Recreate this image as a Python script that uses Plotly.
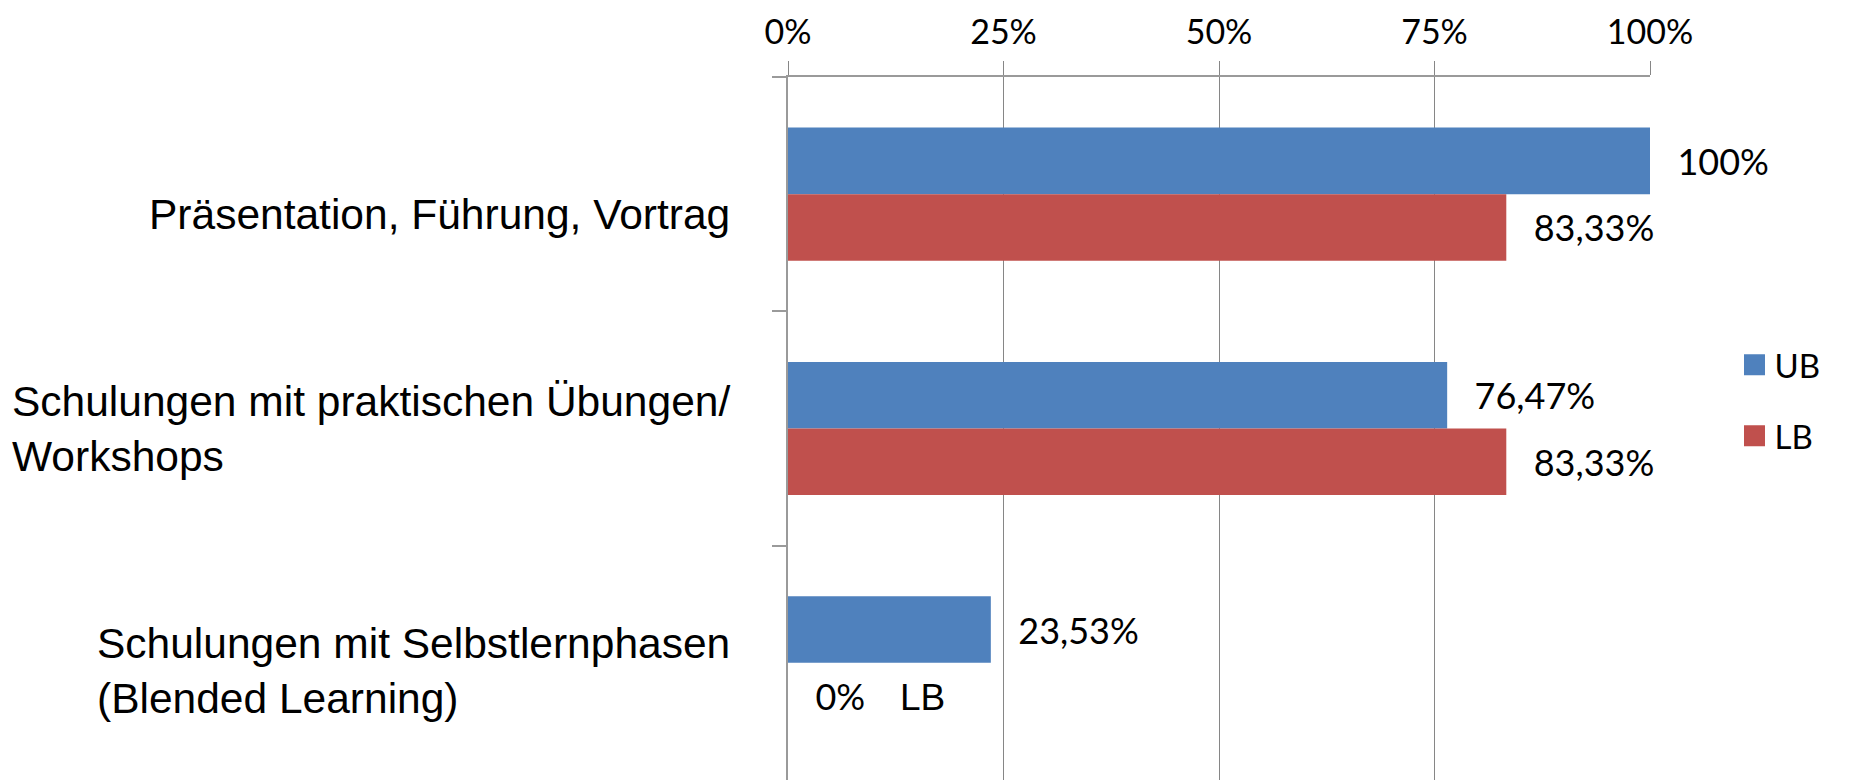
import plotly.graph_objects as go

categories = [
    "Präsentation, Führung, Vortrag",
    "Schulungen mit praktischen Übungen/<br>Workshops",
    "Schulungen mit Selbstlernphasen<br>(Blended Learning)",
]
series_names = ["UB", "LB"]
ub_values = [100, 76.47, 23.53]
lb_values = [83.33, 83.33, 0]
x_tick_values = [0, 25, 50, 75, 100]
x_tick_labels = [f"{v}%" for v in x_tick_values]
extra_label_text = "LB"

colors = {"UB": "#4F81BD", "LB": "#C0504D"}
GRID = "#868686"
AXIS = "#9a9a9a"
LABEL_FONT = "Lato"
CAT_FONT = "Liberation Sans"

# the page body adds an 8px margin; the figure is sized/placed to compensate
W, H = 1852, 773


def fmt(v):
    return "\u00a0\u00a0\u2006" + f"{v:g}".replace(".", ",") + "%"


fig = go.Figure()
for name, vals in zip(series_names, [ub_values, lb_values]):
    fig.add_trace(go.Bar(
        name=name,
        legendgroup=name,
        showlegend=False,
        orientation="h",
        x=vals,
        y=categories,
        marker=dict(color=colors[name], line=dict(width=0)),
        text=[fmt(v) for v in vals],
        textposition="outside",
        textfont=dict(family=LABEL_FONT, size=36, color="#000000"),
        constraintext="none",
        cliponaxis=False,
        hoverinfo="skip",
    ))

# legend entries with square keys (same series names / colours)
for name in series_names:
    fig.add_trace(go.Scatter(
        name=name, legendgroup=name, showlegend=True,
        x=[None], y=[None], mode="markers",
        marker=dict(symbol="square", size=16, color=colors[name],
                    line=dict(color=colors[name], width=5)),
        hoverinfo="skip",
    ))

# category labels (left-aligned blocks, right-anchored next to the axis)
label_shift = [-20, 0, -8]
for cat, ys in zip(categories, label_shift):
    fig.add_annotation(
        text=cat, xref="paper", x=0, xanchor="right", xshift=-56,
        yref="y", y=cat, yanchor="middle", yshift=ys,
        align="left", showarrow=False,
        font=dict(family=CAT_FONT, size=42.5, color="#000000"),
    )

# extra series label next to the 0% bar
fig.add_annotation(
    text=extra_label_text, xref="x", x=lb_values[2], xanchor="left", xshift=110,
    yref="y", y=categories[2], yanchor="middle", yshift=-35,
    showarrow=False,
    font=dict(family=CAT_FONT, size=37, color="#000000"),
)

fig.update_layout(
    width=W, height=H,
    margin=dict(l=780, r=210, t=69, b=1, pad=0, autoexpand=False),
    paper_bgcolor="white", plot_bgcolor="white",
    barmode="group", bargap=0.432, bargroupgap=0,
    separators=",.",
    legend=dict(
        x=1.098, xanchor="left", y=0.54, yanchor="middle",
        font=dict(family=LABEL_FONT, size=33, color="#000000"),
        traceorder="grouped", tracegroupgap=25,
        itemwidth=30,
        bgcolor="rgba(0,0,0,0)",
    ),
    xaxis=dict(
        side="top", range=[0, 100], tickmode="array",
        tickvals=x_tick_values, ticktext=x_tick_labels,
        showgrid=True, gridcolor=GRID, gridwidth=1,
        zeroline=False, automargin=False,
        ticks="outside", ticklen=14, tickcolor=GRID, tickwidth=1,
        ticklabelstandoff=3,
        showline=True, linecolor=AXIS, linewidth=2,
        tickfont=dict(family=LABEL_FONT, size=34, color="#000000"),
        fixedrange=True,
    ),
    yaxis=dict(
        type="category", categoryarray=categories, categoryorder="array",
        range=[2.5, -0.5], automargin=False,
        showgrid=False, zeroline=False,
        showline=True, linecolor=AXIS, linewidth=2,
        ticks="outside", tickson="boundaries", ticklen=14, tickcolor=AXIS, tickwidth=2,
        showticklabels=False,
        fixedrange=True,
    ),
)

fig.write_html("out.html")
